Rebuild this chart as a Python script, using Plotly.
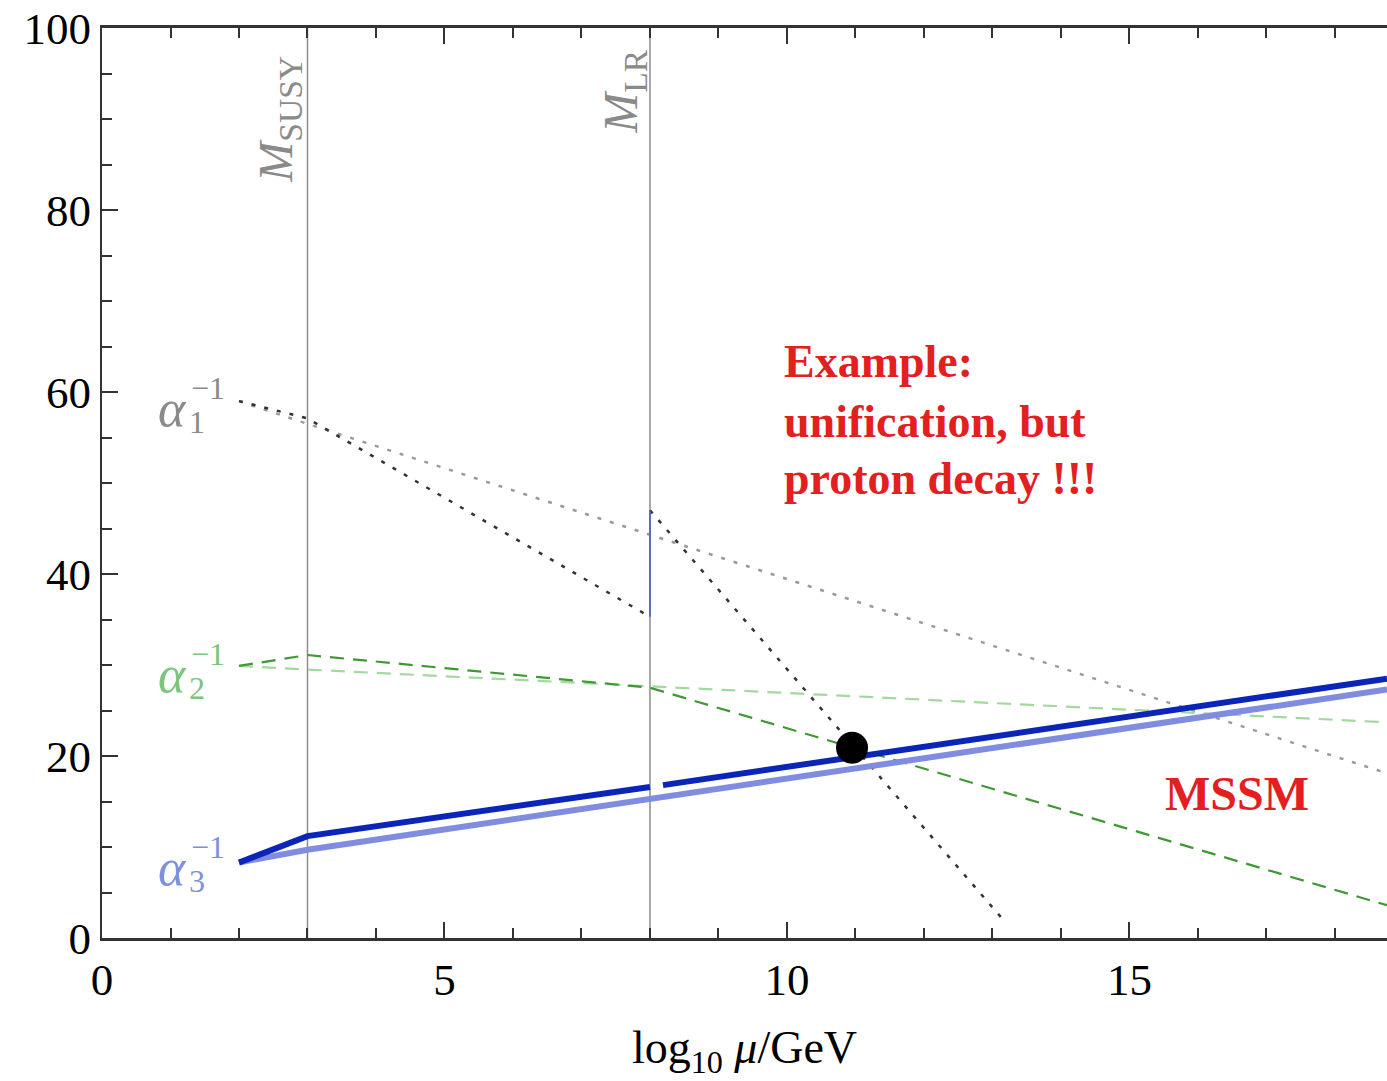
import plotly.graph_objects as go

# ---- data (log10 mu/GeV, alpha^-1) ----
M_SUSY = 3
M_LR = 8
X_MAX = 18.76

# alpha3^-1 (LR model, thick dark blue) -- gap just above M_LR
a3_lr_x = [2, 3, 8, None, 8.19, 18.76]
a3_lr_y = [8.3, 11.2, 16.6, None, 16.8, 28.5]
# alpha3^-1 (MSSM, thick light blue)
a3_mssm_x = [2, 3, 18.76]
a3_mssm_y = [8.3, 9.7, 27.3]

# alpha2^-1 (LR, dark green dashed)
a2_lr_x = [2, 3, 8, 18.76]
a2_lr_y = [29.9, 31.1, 27.5, 3.6]
# alpha2^-1 (MSSM, light green dashed)
a2_mssm_x = [2, 3, 18.76]
a2_mssm_y = [29.9, 29.5, 23.7]

# alpha1^-1 (LR, dark dotted) with jump at M_LR
a1_lr_x = [2, 3, 8, None, 8, 13.18]
a1_lr_y = [59.0, 57.1, 35.3, None, 47.0, 1.8]
# matching jump at M_LR (thin blue)
jump_x = [8, 8]
jump_y = [35.3, 47.0]
# alpha1^-1 (MSSM, light dotted)
a1_mssm_x = [2, 3, 18.76]
a1_mssm_y = [59.0, 56.5, 18.1]

# unification point
unif_x = [10.95]
unif_y = [20.9]

x_major = [0, 5, 10, 15]
y_major = [0, 20, 40, 60, 80, 100]

SERIF = "Liberation Serif"

fig = go.Figure()

# vertical scale lines
for xv in (M_SUSY, M_LR):
    fig.add_trace(go.Scatter(x=[xv, xv], y=[0, 100], mode="lines",
                             line=dict(color="#8c8c8c", width=1.5), hoverinfo="skip"))

fig.add_trace(go.Scatter(x=a1_mssm_x, y=a1_mssm_y, mode="lines",
                         line=dict(color="#9a9a9a", width=2.5, dash="4px,9px")))
fig.add_trace(go.Scatter(x=a1_lr_x, y=a1_lr_y, mode="lines",
                         line=dict(color="#333333", width=2.5, dash="4px,9px")))
fig.add_trace(go.Scatter(x=jump_x, y=jump_y, mode="lines",
                         line=dict(color="#5565c8", width=1.8)))

fig.add_trace(go.Scatter(x=a2_mssm_x, y=a2_mssm_y, mode="lines",
                         line=dict(color="#a3d89e", width=2.2, dash="14px,9px")))
fig.add_trace(go.Scatter(x=a2_lr_x, y=a2_lr_y, mode="lines",
                         line=dict(color="#3d9a32", width=2.2, dash="14px,9px")))

fig.add_trace(go.Scatter(x=a3_mssm_x, y=a3_mssm_y, mode="lines",
                         line=dict(color="#7f8ce0", width=6)))
fig.add_trace(go.Scatter(x=a3_lr_x, y=a3_lr_y, mode="lines", connectgaps=False,
                         line=dict(color="#0a25b8", width=6)))

fig.add_trace(go.Scatter(x=unif_x, y=unif_y, mode="markers",
                         marker=dict(color="black", size=32)))

ann = []
# scale labels
ann.append(dict(x=2.58, y=90.0, text="<i>M</i><sub>SUSY</sub>", textangle=-90,
                font=dict(family=SERIF, size=48, color="#8a8a8a"), showarrow=False))
ann.append(dict(x=7.62, y=93.0, text="<i>M</i><sub>LR</sub>", textangle=-90,
                font=dict(family=SERIF, size=48, color="#8a8a8a"), showarrow=False))

# alpha labels (alpha, stacked superscript and subscript)
alpha_labels = [("1", 58.2, "#8a8a8a"), ("2", 29.0, "#7dc47d"), ("3", 7.8, "#8090e0")]
for sub, yv, col in alpha_labels:
    ann.append(dict(x=1.03, y=yv, text="<i>α</i>", font=dict(family=SERIF, size=52, color=col),
                    showarrow=False, xanchor="center", yanchor="middle"))
    ann.append(dict(x=1.03, y=yv, text="−1", font=dict(family=SERIF, size=32, color=col),
                    showarrow=False, xanchor="left", yanchor="middle", xshift=16, yshift=20))
    ann.append(dict(x=1.03, y=yv, text=sub, font=dict(family=SERIF, size=32, color=col),
                    showarrow=False, xanchor="left", yanchor="middle", xshift=14, yshift=-14))

# red comments
red = "#e3201f"
for txt, yv in [("Example:", 63.3), ("unification, but", 56.8), ("proton decay !!!", 50.5)]:
    ann.append(dict(x=9.93, y=yv, text="<b>" + txt + "</b>", xanchor="left", yanchor="middle",
                    font=dict(family=SERIF, size=46, color=red), showarrow=False))
ann.append(dict(x=16.57, y=15.9, text="<b>MSSM</b>", xanchor="center", yanchor="middle",
                font=dict(family=SERIF, size=48, color=red), showarrow=False))

fig.update_layout(
    width=1387, height=1081,
    margin=dict(l=102, r=0, t=28, b=143),
    paper_bgcolor="white", plot_bgcolor="white",
    showlegend=False,
    annotations=ann,
    font=dict(family=SERIF, color="black"),
)
fig.update_xaxes(
    range=[0, X_MAX], tickvals=x_major, ticktext=[str(v) for v in x_major],
    ticks="inside", ticklen=16, tickwidth=1.5, tickcolor="#333",
    minor=dict(dtick=1, ticks="inside", ticklen=10, tickwidth=1.5, tickcolor="#333"),
    showline=True, linecolor="#333", linewidth=2.5, mirror="allticks",
    showgrid=False, zeroline=False,
    tickfont=dict(family=SERIF, size=45, color="black"),
    title=dict(text="log<sub>10</sub> <i>μ</i>/GeV", font=dict(family=SERIF, size=46, color="black"),
               standoff=28),
)
fig.update_yaxes(
    range=[0, 100], tickvals=y_major, ticktext=[str(v) for v in y_major],
    ticks="inside", ticklen=16, tickwidth=1.5, tickcolor="#333",
    minor=dict(dtick=5, ticks="inside", ticklen=10, tickwidth=1.5, tickcolor="#333"),
    showline=True, linecolor="#333", linewidth=2, mirror=False,
    showgrid=False, zeroline=False,
    tickfont=dict(family=SERIF, size=45, color="black"),
)

fig.write_html("out.html")
